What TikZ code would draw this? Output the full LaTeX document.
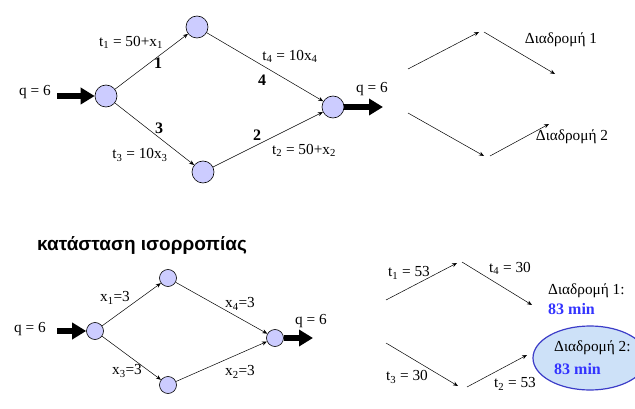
\documentclass[tikz,border=0pt]{standalone}
\usepackage{fontspec}
\setmainfont{Liberation Serif}
\newfontfamily\titlefont{Liberation Sans}
\usetikzlibrary{arrows.meta,shapes.geometric}
\definecolor{nodefill}{RGB}{204,204,255}
\definecolor{routeblue}{RGB}{51,51,255}
\definecolor{ellfill}{RGB}{205,225,248}
\definecolor{elldraw}{RGB}{60,60,200}
\tikzset{
  bignode/.style={circle,draw=black,fill=nodefill,line width=0.6pt,minimum size=22pt,inner sep=0pt},
  smallnode/.style={circle,draw=black,fill=nodefill,line width=0.6pt,minimum size=17pt,inner sep=0pt},
  edge/.style={-{Stealth[length=5pt,width=4pt]},line width=0.5pt},
  flow/.style={-{Triangle[length=14pt,width=16pt]},line width=5.5pt},
  lbl/.style={inner sep=0pt,font=\fontsize{15.3}{17}\selectfont},
  slbl/.style={inner sep=0pt,font=\fontsize{15.3}{17}\selectfont},
  num/.style={inner sep=0pt,font=\fontsize{16}{18}\selectfont\bfseries},
  minlbl/.style={inner sep=0pt,anchor=west,text=routeblue,font=\fontsize{16}{18}\selectfont\bfseries},
}
\begin{document}
\begin{tikzpicture}[x=1pt,y=-1pt]
\useasboundingbox (0,0) rectangle (635,409);
\clip (0,0) rectangle (635,409);
% ---------- top network ----------
\node[bignode] (A) at (106,96) {};
\node[bignode] (B) at (197,27) {};
\node[bignode] (C) at (203,172) {};
\node[bignode] (D) at (333,107) {};
\draw[edge] (A) -- (B);
\draw[edge] (B) -- (D);
\draw[edge] (A) -- (C);
\draw[edge] (C) -- (D);
\coordinate (inS) at (57,96);
\draw[flow] (inS) -- (A);
\coordinate (outE) at (383,107);
\draw[flow] (D) -- (outE);
\node[lbl] (q1) at (35,92) {q = 6};
\node[lbl] (q2) at (372,89) {q = 6};
\node[lbl] (t1) at (131,42) {t\textsubscript{1} = 50+x\textsubscript{1}};
\node[num] (n1) at (158,63) {1};
\node[lbl] (t4) at (290,56) {t\textsubscript{4} = 10x\textsubscript{4}};
\node[num] (n4) at (262,80) {4};
\node[num] (n3) at (159,128) {3};
\node[lbl] (t3) at (140,155) {t\textsubscript{3} = 10x\textsubscript{3}};
\node[num] (n2) at (257,135) {2};
\node[lbl] (t2) at (304,150) {t\textsubscript{2} = 50+x\textsubscript{2}};
% ---------- top right routes ----------
\coordinate (r1a) at (408,69);
\coordinate (r1b) at (479,32);
\coordinate (r1c) at (484,32);
\coordinate (r1d) at (555,74);
\coordinate (r2a) at (408,113);
\coordinate (r2b) at (484,156);
\coordinate (r2c) at (490,156);
\coordinate (r2d) at (549,124);
\draw[edge] (r1a) -- (r1b);
\draw[edge] (r1c) -- (r1d);
\draw[edge] (r2a) -- (r2b);
\draw[edge] (r2c) -- (r2d);
\node[lbl] (d1) at (561,40) {Διαδρομή 1};
\node[lbl] (d2) at (572,137) {Διαδρομή 2};
% ---------- title ----------
\node[inner sep=0pt,font=\titlefont\fontsize{19}{21}\selectfont\bfseries] (title) at (142,245) {κατάσταση ισορροπίας};
% ---------- bottom network ----------
\node[smallnode] (A2) at (95,331) {};
\node[smallnode] (B2) at (168,278) {};
\node[smallnode] (C2) at (168,385) {};
\node[smallnode] (D2) at (275,338) {};
\draw[edge] (A2) -- (B2);
\draw[edge] (B2) -- (D2);
\draw[edge] (A2) -- (C2);
\draw[edge] (C2) -- (D2);
\coordinate (inS2) at (57,331);
\draw[flow] (inS2) -- (A2);
\coordinate (outE2) at (313,338);
\draw[flow] (D2) -- (outE2);
\node[slbl] (q3) at (30,329) {q = 6};
\node[slbl] (q4) at (311,321) {q = 6};
\node[slbl] (x1) at (115,298) {x\textsubscript{1}=3};
\node[slbl] (x4) at (240,304) {x\textsubscript{4}=3};
\node[slbl] (x3) at (127,371) {x\textsubscript{3}=3};
\node[slbl] (x2) at (240,372) {x\textsubscript{2}=3};
% ---------- bottom right routes ----------
\coordinate (s1a) at (386,300);
\coordinate (s1b) at (457,263);
\coordinate (s1c) at (462,262);
\coordinate (s1d) at (532,305);
\coordinate (s2a) at (386,343);
\coordinate (s2b) at (458,386);
\coordinate (s2c) at (467,387);
\coordinate (s2d) at (527,355);
\draw[edge] (s1a) -- (s1b);
\draw[edge] (s1c) -- (s1d);
\draw[edge] (s2a) -- (s2b);
\draw[edge] (s2c) -- (s2d);
\node[slbl] (u1) at (409,273) {t\textsubscript{1} = 53};
\node[slbl] (u4) at (510,268) {t\textsubscript{4} = 30};
\node[slbl] (u3) at (407,377) {t\textsubscript{3} = 30};
\node[slbl] (u2) at (515,384) {t\textsubscript{2} = 53};
\node[slbl,anchor=west] (e1) at (548,291) {Διαδρομή 1:};
\node[minlbl] (m1) at (548,309) {83 min};
\node[ellipse,draw=elldraw,fill=ellfill,line width=1.2pt,minimum width=114pt,minimum height=64pt] (ell) at (590,358) {};
\node[slbl,anchor=west] (e2) at (554,348) {Διαδρομή 2:};
\node[minlbl] (m2) at (554,369) {83 min};
\end{tikzpicture}
\end{document}
